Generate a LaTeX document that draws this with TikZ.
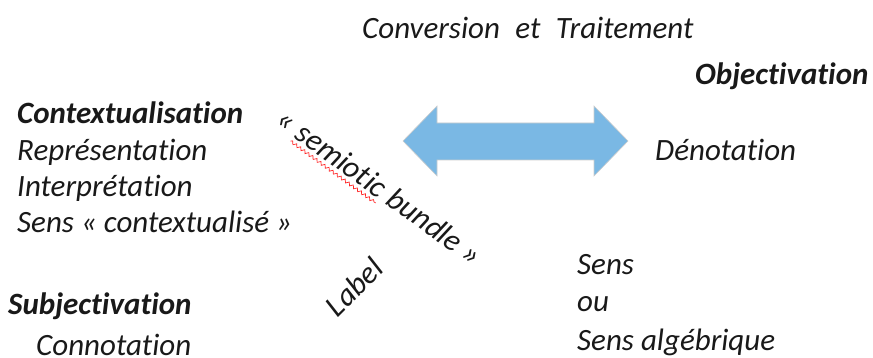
\documentclass[tikz,border=0pt]{standalone}
\usepackage{fontspec}
\setmainfont{Carlito}[Ligatures={NoCommon,NoDiscretionary,NoRare}]
\usetikzlibrary{decorations.pathmorphing}
\definecolor{arrowblue}{RGB}{122,184,228}
\definecolor{txt}{RGB}{25,25,25}
\tikzset{
  lbl/.style={inner sep=0pt, anchor=base west, font=\fontsize{31}{36}\selectfont\itshape, text=txt},
  hdr/.style={lbl, font=\fontsize{31}{36}\selectfont\bfseries\itshape},
}
\begin{document}
\begin{tikzpicture}[x=1pt,y=-1pt]
\useasboundingbox (0,0) rectangle (873,358);
\node[lbl] (conv) at (362,39) {Conversion\enspace et\enspace Traitement};
\node[hdr] (obj) at (695,85) {Objectivation};
\node[hdr] (ctx) at (17,124) {Contextualisation};
\node[lbl] (rep) at (17,161) {Représentation};
\node[lbl] (int) at (17,197) {Interprétation};
\node[lbl] (sc) at (17,233) {Sens « contextualisé »};
\node[lbl] (den) at (655,161) {Dénotation};
\node[hdr] (subj) at (8,314) {Subjectivation};
\node[lbl] (con) at (36,355) {Connotation};
\node[lbl] (s1) at (577,274) {Sens};
\node[lbl] (s2) at (577,311) {ou};
\node[lbl] (s3) at (577,350) {Sens algébrique};
% double arrow
\draw[fill=arrowblue, draw=gray!40, line width=0.6pt]
  (403,141) -- (437,106) -- (437,123) -- (594,123) -- (594,106) -- (628,141)
  -- (594,176) -- (594,160) -- (437,160) -- (437,176) -- cycle;
% semiotic bundle
\begin{scope}[shift={(274,123)}, rotate=-36, transform shape]
  \node[lbl] (q1) at (0,0) {«\kern0.25em};
  \node[lbl] (sem) at (q1.base east) {semiotic};
  \node[lbl] (bund) at (sem.base east) {\ bundle »};
  \draw[red!85, line width=0.7pt, decorate, decoration={snake, amplitude=1.5pt, segment length=5pt}]
    ([yshift=-5pt]sem.base west) -- ([yshift=-5pt]sem.base east);
\end{scope}
\node[lbl, rotate=45, anchor=center] (label) at (354,287) {Label};
\end{tikzpicture}
\end{document}
